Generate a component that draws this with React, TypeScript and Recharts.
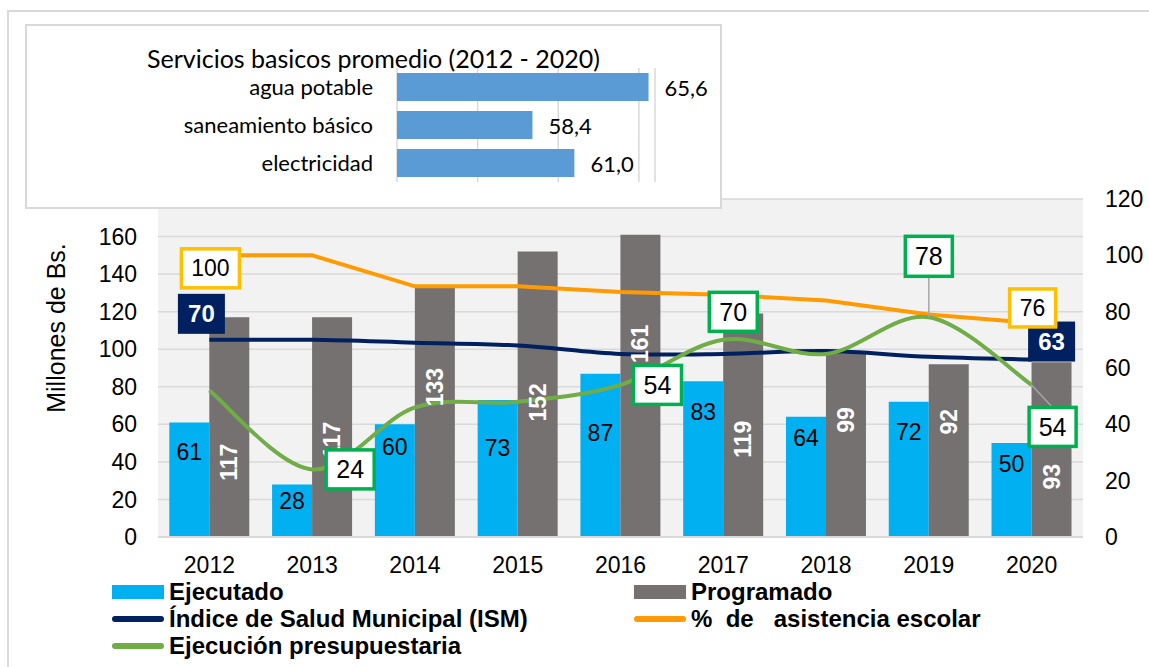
import React from 'react';
import { ComposedChart, BarChart, Bar, Line, XAxis, YAxis, CartesianGrid, LabelList } from 'recharts';

// Datos del gráfico principal
const years = ['2012', '2013', '2014', '2015', '2016', '2017', '2018', '2019', '2020'];
const ejecutado = [61, 28, 60, 73, 87, 83, 64, 72, 50];
const programado = [117, 117, 133, 152, 161, 119, 99, 92, 93];
const ism = [70, 70, 69, 68, 65, 65, 66, 64, 63];
const asistencia = [100, 100, 89, 89, 87, 86, 84, 79, 76];
const ejecucion = [52, 24, 46, 48, 54, 70, 65, 78, 54];
const leftTicks = [0, 20, 40, 60, 80, 100, 120, 140, 160, 180];
const rightTicks = [0, 20, 40, 60, 80, 100, 120];

// Datos del recuadro de servicios básicos
const servicios = ['agua potable', 'saneamiento básico', 'electricidad'];
const serviciosValores = [65.6, 58.4, 61.0];
const serviciosTicks = [50, 55, 60, 65];

// desplazamientos de las etiquetas de barras (px), como en el original
const ejecutadoLabelDy = [30, 17, 23, 48, 59, 31, 21, 30, 21];
const programadoLabelDy = [35, 13, -25, 8, -42, 14, -24, -29, 27];

const mainData = years.map((year, i) => ({
  year,
  ejecutado: ejecutado[i],
  programado: programado[i],
  ism: ism[i],
  asistencia: asistencia[i],
  ejecucion: ejecucion[i],
}));

const serviciosData = servicios.map((servicio, i) => ({ servicio, valor: serviciosValores[i] }));

const FONT = '"Liberation Sans", Arial, sans-serif';

// curva suavizada al estilo Excel (Catmull-Rom)
const excelSmooth: any = (context: any) => {
  let pts: number[][] = [];
  return {
    areaStart() {},
    areaEnd() {},
    lineStart() {
      pts = [];
    },
    point(x: number, y: number) {
      pts.push([+x, +y]);
    },
    lineEnd() {
      if (!pts.length) return;
      context.moveTo(pts[0][0], pts[0][1]);
      for (let i = 0; i < pts.length - 1; i++) {
        const p0 = pts[Math.max(i - 1, 0)];
        const p1 = pts[i];
        const p2 = pts[i + 1];
        const p3 = pts[Math.min(i + 2, pts.length - 1)];
        context.bezierCurveTo(
          p1[0] + (p2[0] - p0[0]) / 6,
          p1[1] + (p2[1] - p0[1]) / 6,
          p2[0] - (p3[0] - p1[0]) / 6,
          p2[1] - (p3[1] - p1[1]) / 6,
          p2[0],
          p2[1]
        );
      }
    },
  };
};

interface Callout {
  i: number;
  dx: number;
  dy: number;
  w: number;
  h: number;
  leader?: boolean;
}

// ubicación de las etiquetas recuadradas respecto al punto
const asistenciaCallouts: Callout[] = [
  { i: 0, dx: 1, dy: 13, w: 58, h: 39 },
  { i: 8, dx: 1, dy: -15, w: 46, h: 38 },
];
const ismCallouts: Callout[] = [
  { i: 0, dx: -8, dy: -26, w: 47, h: 40 },
  { i: 8, dx: 20, dy: -18, w: 47, h: 40 },
];
const ejecucionCallouts: Callout[] = [
  { i: 1, dx: 38, dy: 0, w: 48, h: 39 },
  { i: 4, dx: 37, dy: 0, w: 48, h: 39 },
  { i: 5, dx: 10, dy: -28, w: 48, h: 39 },
  { i: 7, dx: 0, dy: -61, w: 47, h: 40, leader: true },
  { i: 8, dx: 21, dy: 42, w: 47, h: 39, leader: true },
];

const makeCallout =
  (callouts: Callout[], boxFill: string, boxStroke: string | null, textColor: string, fontSize: number, bold: boolean) =>
  (props: any) => {
    const c = callouts.find((k) => k.i === props.index);
    if (!c) return null;
    const vb = props.viewBox ?? props;
    const px = props.x ?? vb.x;
    const py = props.y ?? vb.y;
    const cx = px + c.dx;
    const cy = py + c.dy;
    const edgeY = c.dy < 0 ? cy + c.h / 2 : cy - c.h / 2;
    return (
      <g>
        {c.leader && <line x1={px} y1={py} x2={cx} y2={edgeY} stroke="#A6A6A6" strokeWidth={1.5} />}
        <rect
          x={cx - c.w / 2}
          y={cy - c.h / 2}
          width={c.w}
          height={c.h}
          fill={boxFill}
          stroke={boxStroke ?? 'none'}
          strokeWidth={boxStroke ? 3.5 : 0}
        />
        <text
          x={cx}
          y={cy}
          textAnchor="middle"
          dominantBaseline="central"
          fill={textColor}
          fontSize={fontSize}
          fontWeight={bold ? 'bold' : 'normal'}
        >
          {props.value}
        </text>
      </g>
    );
  };

const EjecutadoLabel = (props: any) => {
  const vb = props.viewBox ?? props;
  const dy = ejecutadoLabelDy[props.index] ?? 27;
  return (
    <text x={vb.x + vb.width / 2} y={vb.y + dy} textAnchor="middle" dominantBaseline="central" fill="#000" fontSize={23}>
      {props.value}
    </text>
  );
};

const ProgramadoLabel = (props: any) => {
  const vb = props.viewBox ?? props;
  const cx = vb.x + vb.width / 2;
  const cy = vb.y + vb.height / 2 + (programadoLabelDy[props.index] ?? 0);
  return (
    <text
      x={cx}
      y={cy}
      transform={`rotate(-90 ${cx} ${cy})`}
      textAnchor="middle"
      dominantBaseline="central"
      fill="#fff"
      fontSize={23}
      fontWeight="bold"
    >
      {props.value}
    </text>
  );
};

const ServicioLabel = (props: any) => {
  const vb = props.viewBox ?? props;
  return (
    <text x={vb.x + vb.width + 16} y={vb.y + vb.height / 2} dominantBaseline="central" fill="#000" fontSize={22}>
      {Number(props.value).toFixed(1).replace('.', ',')}
    </text>
  );
};

const legendItems = [
  { name: 'Ejecutado', color: '#00B0F0', kind: 'bar' },
  { name: 'Programado', color: '#767171', kind: 'bar' },
  { name: 'Índice de Salud Municipal (ISM)', color: '#002060', kind: 'line' },
  { name: '%  de   asistencia escolar', color: '#FF9B00', kind: 'line' },
  { name: 'Ejecución presupuestaria', color: '#70AD47', kind: 'line' },
];

const tickStyle = { fontSize: 23, fill: '#000' };

const App: React.FC = () => {
  return (
    <div
      style={{
        position: 'absolute',
        left: 0,
        top: 0,
        width: 1149,
        height: 667,
        overflow: 'hidden',
        background: '#fff',
        fontFamily: FONT,
      }}
    >
      <div
        style={{
          position: 'absolute',
          left: 7,
          top: 10,
          width: 1300,
          height: 800,
          borderLeft: '2px solid #D9D9D9',
          borderTop: '2px solid #D9D9D9',
        }}
      />

      {/* Gráfico principal */}
      <div style={{ position: 'absolute', left: 0, top: 0 }}>
        <ComposedChart
          width={1149}
          height={667}
          data={mainData}
          margin={{ top: 199, right: 0, bottom: 90, left: 0 }}
          barGap={0}
          barCategoryGap="11%"
        >
          <CartesianGrid yAxisId="left" vertical={false} stroke="#D9D9D9" strokeWidth={1.5} fill="#F2F2F2" fillOpacity={1} />
          <XAxis
            dataKey="year"
            height={40}
            interval={0}
            tickLine={false}
            tickSize={0}
            tickMargin={20}
            axisLine={{ stroke: '#D9D9D9', strokeWidth: 2 }}
            tick={tickStyle}
          />
          <YAxis
            yAxisId="left"
            domain={[0, 180]}
            ticks={leftTicks}
            interval={0}
            width={158}
            axisLine={false}
            tickLine={false}
            tickSize={0}
            tickMargin={21}
            tick={tickStyle}
            label={{
              value: 'Millones de Bs.',
              angle: -90,
              position: 'center',
              dx: -23,
              dy: -40,
              style: { fontSize: 25, fill: '#000' },
            }}
          />
          <YAxis
            yAxisId="right"
            orientation="right"
            domain={[0, 120]}
            ticks={rightTicks}
            interval={0}
            width={66}
            axisLine={false}
            tickLine={false}
            tickSize={0}
            tickMargin={22}
            tick={{ ...tickStyle, textAnchor: 'start' }}
          />
          <Bar yAxisId="left" dataKey="ejecutado" fill="#00B0F0" isAnimationActive={false}>
            <LabelList dataKey="ejecutado" content={EjecutadoLabel} />
          </Bar>
          <Bar yAxisId="left" dataKey="programado" fill="#767171" isAnimationActive={false}>
            <LabelList dataKey="programado" content={ProgramadoLabel} />
          </Bar>
          <Line
            yAxisId="right"
            dataKey="ism"
            type={excelSmooth}
            stroke="#002060"
            strokeWidth={4}
            dot={false}
            activeDot={false}
            isAnimationActive={false}
          >
            <LabelList dataKey="ism" content={makeCallout(ismCallouts, '#002060', null, '#fff', 24, true)} />
          </Line>
          <Line
            yAxisId="right"
            dataKey="asistencia"
            type="linear"
            stroke="#FF9B00"
            strokeWidth={4}
            dot={false}
            activeDot={false}
            isAnimationActive={false}
          >
            <LabelList dataKey="asistencia" content={makeCallout(asistenciaCallouts, '#fff', '#FFC000', '#000', 23, false)} />
          </Line>
          <Line
            yAxisId="right"
            dataKey="ejecucion"
            type={excelSmooth}
            stroke="#70AD47"
            strokeWidth={4}
            dot={false}
            activeDot={false}
            isAnimationActive={false}
          >
            <LabelList dataKey="ejecucion" content={makeCallout(ejecucionCallouts, '#fff', '#00B050', '#000', 25, false)} />
          </Line>
        </ComposedChart>
      </div>

      {/* Recuadro: servicios básicos */}
      <div
        style={{
          position: 'absolute',
          left: 25,
          top: 24,
          width: 697,
          height: 185,
          boxSizing: 'border-box',
          border: '2px solid #D9D9D9',
          background: '#fff',
          fontFamily: 'Lato, "Open Sans", sans-serif',
        }}
      >
        <div style={{ position: 'absolute', left: 0, top: 0 }}>
          <BarChart
            layout="vertical"
            width={693}
            height={181}
            data={serviciosData}
            margin={{ top: 42, right: 65, bottom: 25, left: 0 }}
          >
            <CartesianGrid horizontal={false} stroke="#D9D9D9" strokeWidth={1.5} />
            <XAxis type="number" domain={[50, 66]} ticks={serviciosTicks} allowDataOverflow hide />
            <YAxis
              type="category"
              dataKey="servicio"
              width={370}
              interval={0}
              axisLine={false}
              tickLine={false}
              tickSize={0}
              tickMargin={24}
              tick={{ fontSize: 22, fill: '#000' }}
            />
            <Bar dataKey="valor" fill="#5B9BD5" barSize={28} isAnimationActive={false}>
              <LabelList dataKey="valor" content={ServicioLabel} />
            </Bar>
          </BarChart>
        </div>
        <div
          style={{
            position: 'absolute',
            left: 0,
            top: 21,
            width: '100%',
            textAlign: 'center',
            fontSize: 25,
            lineHeight: '22px',
            color: '#000',
          }}
        >
          Servicios basicos promedio (2012 - 2020)
        </div>
      </div>

      {/* Leyenda */}
      <div
        style={{
          position: 'absolute',
          left: 112,
          top: 578,
          display: 'grid',
          gridTemplateColumns: '522px auto',
          gridAutoRows: '27px',
        }}
      >
        {legendItems.map((item) => (
          <div key={item.name} style={{ display: 'flex', alignItems: 'center' }}>
            <div
              style={{
                width: 52,
                height: item.kind === 'bar' ? 14 : 6,
                borderRadius: item.kind === 'bar' ? 0 : 3,
                background: item.color,
                marginRight: 5,
              }}
            />
            <span style={{ fontSize: 24, lineHeight: 1, fontWeight: 'bold', color: '#000', whiteSpace: 'pre' }}>
              {item.name}
            </span>
          </div>
        ))}
      </div>
    </div>
  );
};

export default App;
